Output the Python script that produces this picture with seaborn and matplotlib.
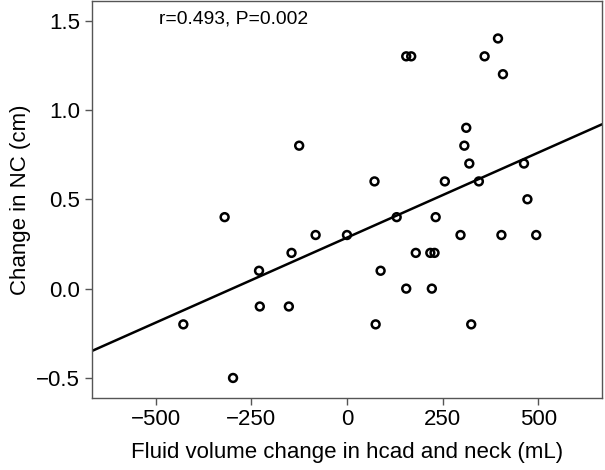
import numpy as np
import pandas as pd
import matplotlib
matplotlib.use("Agg")
import matplotlib.pyplot as plt
import seaborn as sns

# Values
fluid_change = [-428, -298, -320, -230, -228, -152, -145, -125, -82, 0,
                72, 75, 88, 130, 155, 155, 168, 180, 218, 222,
                229, 232, 256, 297, 307, 312, 320, 325, 345, 360,
                395, 404, 408, 463, 472, 495]
nc_change = [-0.2, -0.5, 0.4, 0.1, -0.1, -0.1, 0.2, 0.8, 0.3, 0.3,
             0.6, -0.2, 0.1, 0.4, 1.3, 0.0, 1.3, 0.2, 0.2, 0.0,
             0.2, 0.4, 0.6, 0.3, 0.8, 0.9, 0.7, -0.2, 0.6, 1.3,
             1.4, 0.3, 1.2, 0.7, 0.5, 0.3]
x_ticks = [-500, -250, 0, 250, 500]
y_ticks = [-0.5, 0.0, 0.5, 1.0, 1.5]
stats_label = "r=0.493, P=0.002"

df = pd.DataFrame({"fluid": fluid_change, "nc": nc_change})

sns.set_style("ticks")
plt.rcParams["font.family"] = ["Liberation Sans", "DejaVu Sans"]
plt.rcParams["text.color"] = "black"
plt.rcParams["axes.labelcolor"] = "black"
plt.rcParams["xtick.labelcolor"] = "black"
plt.rcParams["ytick.labelcolor"] = "black"

fig = plt.figure(figsize=(6.05, 4.70), dpi=100)
ax = fig.add_axes([0.152, 0.154, 0.843, 0.844])
ax.set_xlim(-667, 667)
ax.set_ylim(-0.61, 1.61)

sns.regplot(data=df, x="fluid", y="nc", ax=ax, ci=None, truncate=False,
            scatter_kws={"s": 32, "facecolors": "none", "edgecolors": "black",
                         "linewidths": 1.8, "alpha": 1},
            line_kws={"color": "black", "linewidth": 1.8})
ax.set_xlim(-667, 667)
ax.set_ylim(-0.61, 1.61)

ax.set_xticks(x_ticks)
ax.set_yticks(y_ticks)
ax.set_xticklabels([str(t).replace("-", "\u2212") for t in x_ticks])
ax.set_yticklabels([f"{t:.1f}".replace("-", "\u2212") for t in y_ticks])
ax.tick_params(labelsize=16, length=5, width=1, color="#555555",
               labelcolor="black")

for side in ["top", "right", "left", "bottom"]:
    ax.spines[side].set_visible(True)
    ax.spines[side].set_color("#555555")
    ax.spines[side].set_linewidth(1)

ax.set_xlabel("Fluid volume change in hcad and neck (mL)", fontsize=16,
              labelpad=8, color="black")
ax.set_ylabel("Change in NC (cm)", fontsize=16, labelpad=4, color="black")

ax.text(0.132, 0.955, stats_label, transform=ax.transAxes, fontsize=13.9,
        va="center", ha="left", color="black")

fig.savefig("out.png", dpi=100)
